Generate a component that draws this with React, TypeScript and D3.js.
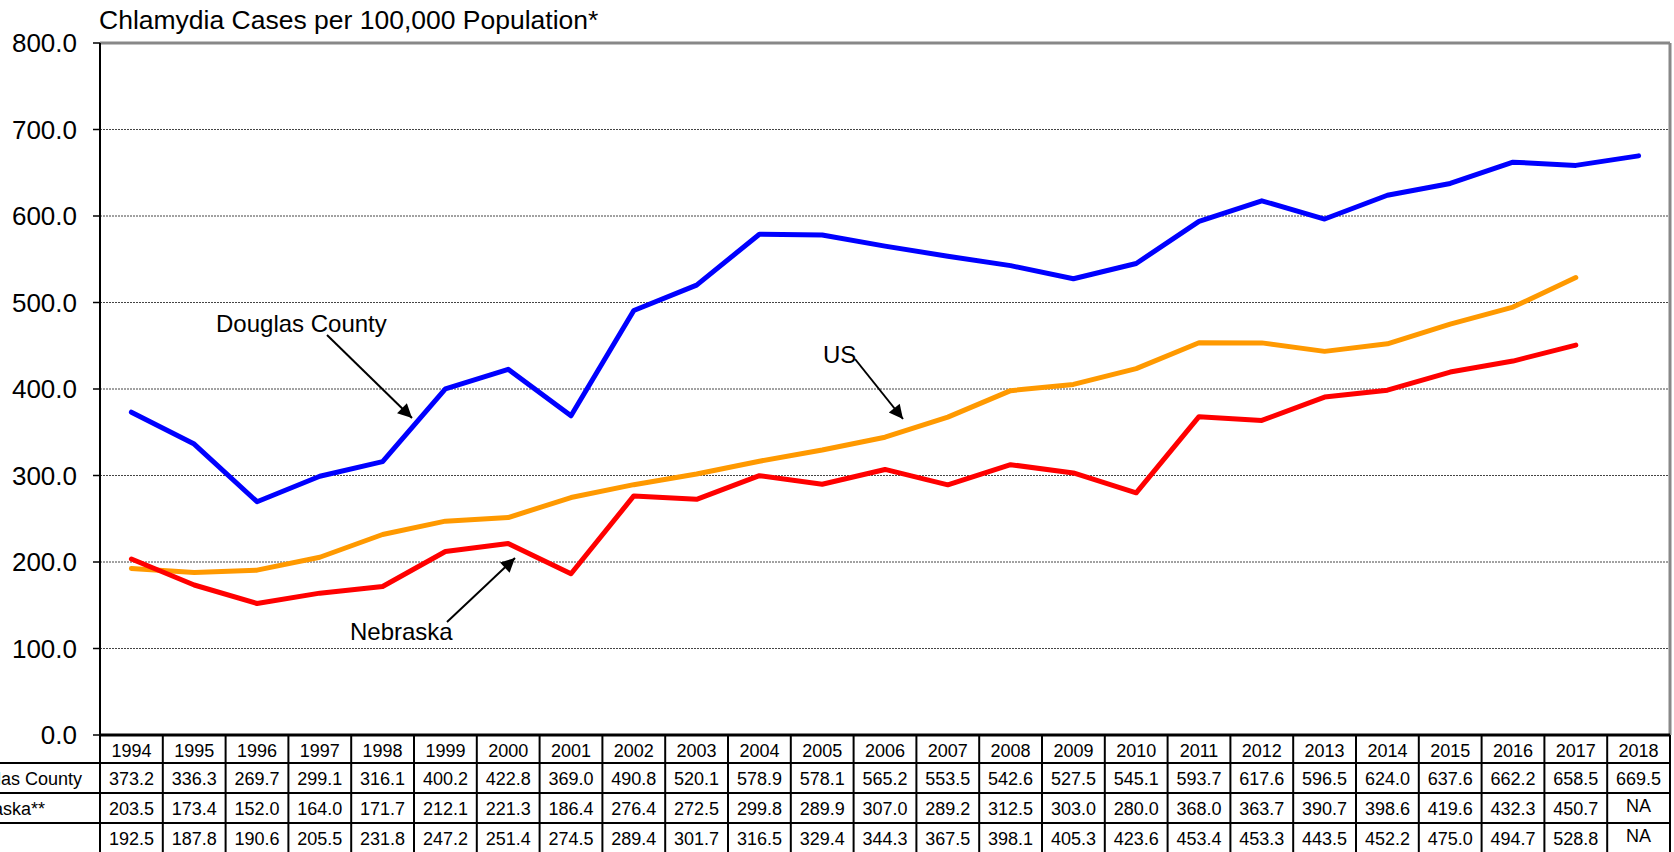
import React from "react";
import * as d3 from "d3";

const years = [1994,1995,1996,1997,1998,1999,2000,2001,2002,2003,2004,2005,2006,2007,2008,2009,2010,2011,2012,2013,2014,2015,2016,2017,2018];
const douglas: (number|null)[] = [373.2,336.3,269.7,299.1,316.1,400.2,422.8,369.0,490.8,520.1,578.9,578.1,565.2,553.5,542.6,527.5,545.1,593.7,617.6,596.5,624.0,637.6,662.2,658.5,669.5];
const nebraska: (number|null)[] = [203.5,173.4,152.0,164.0,171.7,212.1,221.3,186.4,276.4,272.5,299.8,289.9,307.0,289.2,312.5,303.0,280.0,368.0,363.7,390.7,398.6,419.6,432.3,450.7,null];
const us: (number|null)[] = [192.5,187.8,190.6,205.5,231.8,247.2,251.4,274.5,289.4,301.7,316.5,329.4,344.3,367.5,398.1,405.3,423.6,453.4,453.3,443.5,452.2,475.0,494.7,528.8,null];
const yTicks = [0,100,200,300,400,500,600,700,800];
const rowLabels = ["Douglas County","Nebraska**","US"];

const W = 1674, H = 852;
const L = 100, R = 1670, T = 43, B = 735;
const FONT = "'Liberation Sans', Arial, Helvetica, sans-serif";

export default function App() {
  const x = d3.scaleBand<number>().domain(years).range([L, R]);
  const y = d3.scaleLinear().domain([0, 800]).range([B, T]);
  const cx = (yr: number) => (x(yr) as number) + x.bandwidth() / 2;
  const line = d3.line<number|null>()
    .defined(d => d !== null)
    .x((_, i) => cx(years[i]))
    .y(d => y(d as number));

  const series = [
    { data: douglas, color: "#0000FF" },
    { data: us, color: "#FF9900" },
    { data: nebraska, color: "#FF0000" },
  ];
  const rowTops = [735, 763, 793, 823, 853];
  const tableRows = [douglas, nebraska, us];
  const fmt = (v: number|null) => v === null ? "NA" : v.toFixed(1);

  return (
    <svg width={W} height={H} style={{ position: "absolute", left: 0, top: 0, background: "#fff" }} fontFamily={FONT}>
      <defs>
        <marker id="arrBig" viewBox="0 0 10 10" refX="10" refY="5" markerWidth="16" markerHeight="14" markerUnits="userSpaceOnUse" orient="auto">
          <path d="M0,0 L10,5 L0,10 z" fill="#000" />
        </marker>
      </defs>
      <rect x={0} y={0} width={W} height={H} fill="#fff" />
      {/* title */}
      <text x={99} y={29} fontSize={26.5} fill="#000">Chlamydia Cases per 100,000 Population*</text>
      {/* gridlines */}
      {yTicks.filter(t => t > 0 && t < 800).map(t => (
        <line key={t} x1={L} x2={R} y1={y(t)} y2={y(t)} stroke="#444" strokeWidth={1} strokeDasharray="2,1" />
      ))}
      {/* plot border top/right */}
      <line x1={L} x2={R} y1={T} y2={T} stroke="#888" strokeWidth={3} />
      <line x1={R} x2={R} y1={T} y2={B} stroke="#888" strokeWidth={3} />
      {/* y axis */}
      <line x1={L} x2={L} y1={T} y2={H} stroke="#000" strokeWidth={2} />
      {yTicks.map(t => (
        <g key={t}>
          <line x1={93} x2={L} y1={y(t)} y2={y(t)} stroke="#000" strokeWidth={1.5} />
          <text x={77} y={y(t) + 9} fontSize={26} textAnchor="end" fill="#000">{t.toFixed(1)}</text>
        </g>
      ))}
      {/* series lines */}
      {series.map((s, i) => (
        <path key={i} d={line(s.data) || ""} fill="none" stroke={s.color} strokeWidth={5} strokeLinejoin="round" strokeLinecap="round" />
      ))}
      {/* annotations */}
      <text x={216} y={332} fontSize={24} fill="#000">Douglas County</text>
      <line x1={327} y1={335} x2={412} y2={418} stroke="#000" strokeWidth={2} markerEnd="url(#arrBig)" />
      <text x={823} y={363} fontSize={24} fill="#000">US</text>
      <line x1={855} y1={359} x2={903} y2={419} stroke="#000" strokeWidth={2} markerEnd="url(#arrBig)" />
      <text x={350} y={640} fontSize={24} fill="#000">Nebraska</text>
      <line x1={447} y1={622} x2={515} y2={558} stroke="#000" strokeWidth={2} markerEnd="url(#arrBig)" />
      {/* table */}
      <line x1={L} x2={R} y1={735} y2={735} stroke="#000" strokeWidth={3} />
      {rowTops.slice(1, 4).map((ry, i) => (
        <line key={i} x1={-10} x2={R} y1={ry} y2={ry} stroke="#000" strokeWidth={2} />
      ))}
      {years.map(yr => (
        <line key={yr} x1={(x(yr) as number) + x.bandwidth()} x2={(x(yr) as number) + x.bandwidth()} y1={735} y2={H} stroke="#000" strokeWidth={2} />
      ))}
      {years.map(yr => (
        <text key={yr} x={cx(yr)} y={757} fontSize={18} textAnchor="middle" fill="#000">{yr}</text>
      ))}
      {tableRows.map((row, ri) => (
        <g key={ri}>
          <text x={-46} y={rowTops[ri + 1] + 22} fontSize={18} fill="#000">{rowLabels[ri]}</text>
          {row.map((v, i) => (
            <text key={i} x={cx(years[i])} y={rowTops[ri + 1] + (v === null ? 19 : 22)} fontSize={18} textAnchor="middle" fill="#000">{fmt(v)}</text>
          ))}
        </g>
      ))}
    </svg>
  );
}
